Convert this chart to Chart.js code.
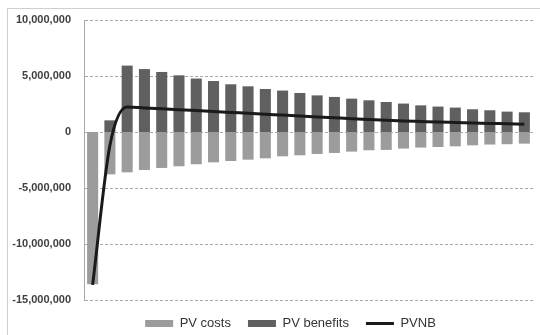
<!DOCTYPE html>
<html>
<head>
<meta charset="utf-8">
<script src="https://cdn.jsdelivr.net/npm/chart.js@4/dist/chart.umd.min.js"></script>
<style>
  html, body { margin: 0; padding: 0; background: #ffffff; }
  #wrap { position: relative; width: 540px; height: 335px; overflow: hidden; }
  #frame { position: absolute; left: 7px; top: 8px; width: 560px; height: 360px;
           border: 1px solid #cfcfcf; box-sizing: border-box; }
  #chart { position: absolute; left: 0; top: 0; }
</style>
</head>
<body>
<div id="wrap">
  <div id="frame"></div>
  <canvas id="chart" width="540" height="335"></canvas>
</div>
<script>
// Project years (categories on the x axis; not labelled)
const years = ['1','2','3','4','5','6','7','8','9','10','11','12','13',
               '14','15','16','17','18','19','20','21','22','23','24','25','26'];

// Present value of costs per year (negative)
const pvCosts = [-13600000, -3780000, -3600000, -3390000, -3210000, -3060000,
                 -2880000, -2710000, -2590000, -2470000, -2350000, -2170000,
                 -2080000, -1960000, -1870000, -1750000, -1630000, -1600000,
                 -1480000, -1390000, -1340000, -1280000, -1190000, -1120000,
                 -1090000, -1040000];

// Present value of benefits per year
const pvBenefits = [0, 1040000, 5930000, 5620000, 5360000, 5060000,
                    4770000, 4550000, 4260000, 4080000, 3840000, 3700000,
                    3480000, 3270000, 3130000, 2980000, 2830000, 2680000,
                    2540000, 2380000, 2270000, 2180000, 2030000, 1940000,
                    1820000, 1760000];

// Present value of net benefits per year
const pvnb = [-13650000, -1200000, 2230000, 2150000, 2070000, 1990000,
              1910000, 1830000, 1750000, 1670000, 1590000, 1510000,
              1430000, 1350000, 1270000, 1190000, 1120000, 1050000,
              990000, 940000, 890000, 850000, 810000, 770000,
              730000, 690000];

// Y axis tick values
const yMin = -15000000, yMax = 10000000, yStep = 5000000;

const fmt = v => v.toLocaleString('en-US');

// Dashed horizontal gridlines at every y tick
const dashedGrid = {
  id: 'dashedGrid',
  beforeDatasetsDraw(chart) {
    const { ctx, chartArea, scales: { y } } = chart;
    ctx.save();
    ctx.strokeStyle = '#a9a9a9';
    ctx.lineWidth = 1;
    ctx.setLineDash([3, 2]);
    y.ticks.forEach(t => {
      const py = Math.round(y.getPixelForValue(t.value)) + 0.5;
      ctx.beginPath();
      ctx.moveTo(chartArea.left + 1, py);
      ctx.lineTo(chartArea.right, py);
      ctx.stroke();
    });
    ctx.restore();
  }
};

// Nudge the legend row to the right of centre
const legendShift = {
  id: 'legendShift',
  afterLayout(chart) {
    chart.legend.left += 24;
    chart.legend.right += 24;
  }
};

new Chart(document.getElementById('chart'), {
  type: 'bar',
  data: {
    labels: years,
    datasets: [
      { label: 'PV costs', data: pvCosts, backgroundColor: '#9c9c9c',
        borderWidth: 0, order: 2, pointStyle: 'rect' },
      { label: 'PV benefits', data: pvBenefits, backgroundColor: '#606060',
        borderWidth: 0, order: 1, pointStyle: 'rect' },
      { type: 'line', label: 'PVNB', data: pvnb, borderColor: '#1a1a1a',
        backgroundColor: '#1a1a1a', borderWidth: 3, pointRadius: 0,
        cubicInterpolationMode: 'monotone', order: 0, pointStyle: 'line' }
    ]
  },
  options: {
    responsive: false,
    animation: false,
    devicePixelRatio: 1,
    layout: { padding: { left: 0, right: 7, top: 20, bottom: -5 } },
    datasets: { bar: { categoryPercentage: 1, barPercentage: 0.64 } },
    scales: {
      x: {
        stacked: true,
        grid: { display: false, drawTicks: false },
        border: { display: false },
        ticks: { display: false }
      },
      y: {
        stacked: false,
        min: yMin, max: yMax,
        afterFit: s => { s.width = 84; },
        afterBuildTicks: s => {
          const t = [];
          for (let v = yMin; v <= yMax; v += yStep) t.push({ value: v });
          s.ticks = t;
        },
        grid: { display: false, drawTicks: false },
        border: { display: true, color: '#a8a8a8', width: 1 },
        ticks: {
          padding: 13,
          color: '#404040',
          font: { family: 'Liberation Sans', size: 11, weight: 'bold' },
          callback: v => fmt(v)
        }
      }
    },
    plugins: {
      tooltip: { enabled: false },
      legend: {
        position: 'bottom',
        labels: {
          usePointStyle: true,
          pointStyleWidth: 28,
          boxHeight: 7,
          padding: 17,
          color: '#333333',
          font: { family: 'Liberation Sans', size: 13 },
          sort: (a, b) => a.datasetIndex - b.datasetIndex
        }
      }
    }
  },
  plugins: [dashedGrid, legendShift]
});
</script>
</body>
</html>
